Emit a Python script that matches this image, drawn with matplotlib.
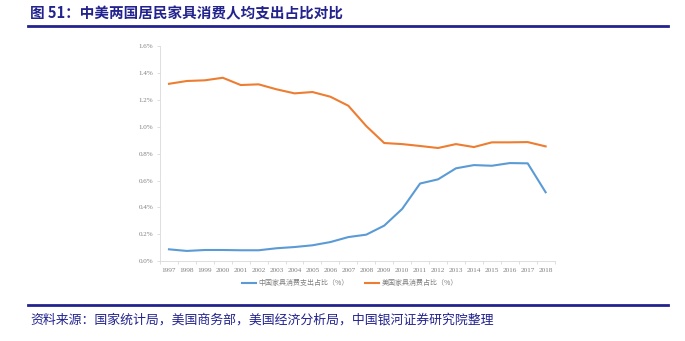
import numpy as np
import matplotlib
matplotlib.use("Agg")
import matplotlib.pyplot as plt
from matplotlib.lines import Line2D

plt.rcParams['font.family'] = ['Noto Sans CJK SC', 'DejaVu Sans']

years = [str(y) for y in range(1997, 2019)]
china = [0.089, 0.077, 0.084, 0.084, 0.082, 0.082, 0.097, 0.106, 0.119, 0.143, 0.180,
         0.198, 0.265, 0.389, 0.578, 0.609, 0.691, 0.715, 0.710, 0.730, 0.728, 0.513]
usa = [1.319, 1.340, 1.345, 1.364, 1.310, 1.315, 1.278, 1.248, 1.258, 1.223, 1.156,
       1.005, 0.879, 0.871, 0.857, 0.842, 0.871, 0.849, 0.884, 0.884, 0.886, 0.854]
yticks = [0.0, 0.2, 0.4, 0.6, 0.8, 1.0, 1.2, 1.4, 1.6]

title = "图 51：中美两国居民家具消费人均支出占比对比"
source = "资料来源：国家统计局，美国商务部，美国经济分析局，中国银河证券研究院整理"
label_cn = "中国家具消费支出占比（%）"
label_us = "美国家具消费占比（%）"

navy = '#23238E'
blue = '#5B9BD5'
orange = '#ED7D31'
grey = '#7F7F7F'

fig = plt.figure(figsize=(6.85, 3.41), dpi=100)
ax = fig.add_axes([160/685, 1-261.3/341, (554.6-160)/685, (261.3-46)/341])

x = np.arange(len(years))
ax.plot(x, china, color=blue, lw=1.5)
ax.plot(x, usa, color=orange, lw=1.5)

ax.set_xlim(-0.5, len(years) - 0.5)
ax.set_ylim(0, 1.6)
ax.set_yticks(yticks)
ax.set_yticklabels(["%.1f%%" % v for v in yticks], family='Liberation Serif', fontsize=5, color=grey)
ax.set_xticks(x)
ax.set_xticklabels(years, family='Liberation Serif', fontsize=5.2, color=grey)
ax.tick_params(axis='x', which='major', length=0, pad=5)
ax.set_xticks(np.arange(-0.5, len(years), 1), minor=True)
ax.tick_params(axis='x', which='minor', length=2.5, color='#D9D9D9', width=0.6)
ax.tick_params(axis='y', length=2, color='#D9D9D9', width=0.6, pad=3)

for s in ['top', 'right']:
    ax.spines[s].set_visible(False)
for s in ['left', 'bottom']:
    ax.spines[s].set_color('#D9D9D9')
    ax.spines[s].set_linewidth(0.6)

handles = [Line2D([], [], color=blue, lw=1.5), Line2D([], [], color=orange, lw=1.5)]
fig.legend(handles, [label_cn, label_us], loc='center', bbox_to_anchor=(350/685, 1-283/341),
           ncol=2, frameon=False, fontsize=5, handlelength=2.0, columnspacing=2.4,
           labelcolor=grey, handletextpad=0.4)

fig.text(30/685, 1-13/341, title, fontsize=10.5, fontweight='bold', color=navy, va='center', ha='left')
fig.add_artist(Line2D([28/685, 668/685], [1-26/341, 1-26/341], color=navy, lw=2))
fig.add_artist(Line2D([28/685, 668/685], [1-305/341, 1-305/341], color=navy, lw=2))
fig.text(30/685, 1-320/341, source, fontsize=9.3, color=navy, va='center', ha='left', style='italic')

fig.savefig("out.png", dpi=100)
